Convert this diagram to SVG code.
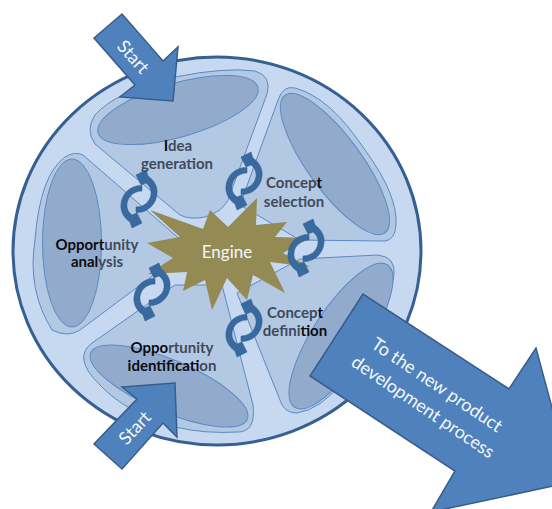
<svg xmlns="http://www.w3.org/2000/svg" xmlns:xlink="http://www.w3.org/1999/xlink" width="552" height="509" viewBox="0 0 552 509">
<style>
.seg{fill:#b3c8e3;stroke:#5b8ac4;stroke-width:1}
.hub{fill:#92abcd;stroke:#5b8ac4;stroke-width:1}
.arrow{fill:#4f81bd;stroke:#385d8a;stroke-width:1.5}
.lbl{font-family:Lato,"Liberation Sans",sans-serif;font-weight:700;font-size:15px;fill:#3f4a5a;text-anchor:middle}
.k{fill:#0c0c10}
.wt{font-family:Lato,"Liberation Sans",sans-serif;fill:#f4f7fb;text-anchor:middle}
.cyc{fill:#386a9f;stroke:#2f5b8c;stroke-width:.5}
</style>
<defs>
<path id="half" d="M-3,8 C7,8 13,0 12,-8 C11.5,-11 10,-14 7,-16 L2,-14 L-3,-24 L7,-29 L9,-23 C15,-19 19,-12 18,-5 C17,6 8,14 -3,13.5 Z"/>
<g id="cycle"><use xlink:href="#half" href="#half" class="cyc"/><use xlink:href="#half" href="#half" class="cyc" transform="rotate(180)"/></g>
</defs>
<g id="wheel">
<ellipse cx="217" cy="251" rx="204" ry="194" fill="#c6d9f1" stroke="#376092" stroke-width="3"/>
</g>
<g id="segment-top">
<path class="seg" d="M267,94 L228,200 Q222,212 205,217 Q190,220 180,215 L95,144 Q85,130 95,115 Q115,92 175,77 Q225,67 255,71 Q272,76 267,94Z"/>
<ellipse class="hub" cx="178" cy="110" rx="83" ry="27" transform="rotate(-16 178 110)"/>
</g>
<g id="segment-right">
<path class="seg" d="M278,100 Q283,85 295,88 Q330,97 365,150 Q398,195 396,225 Q395,240 385,241 L300,240 L240,205 Z"/>
<ellipse class="hub" cx="335" cy="164" rx="27" ry="85" transform="rotate(-36 335 164)"/>
</g>
<g id="segment-lower-right">
<path class="seg" d="M300,259 L378,255 Q396,257 394,275 Q385,330 345,380 Q320,410 297,413 Q287,413 282,405 L237,293 Z"/>
<ellipse class="hub" cx="341" cy="336" rx="28" ry="85" transform="rotate(33 341 336)"/>
</g>
<g id="segment-bottom">
<path class="seg" d="M222,285 L253,405 Q256,432 238,432 Q205,434 175,427 Q125,412 100,385 Q72,358 92,343 L175,285 Z"/>
<ellipse class="hub" cx="169" cy="386" rx="85" ry="26" transform="rotate(23 169 386)"/>
</g>
<g id="segment-left">
<path class="seg" d="M83,155 L190,248 L80,330 Q68,338 52,330 Q27,290 35,240 Q40,175 65,157 Q75,151 83,155Z"/>
<ellipse class="hub" cx="72" cy="243" rx="29.5" ry="84"/>
</g>
<g id="engine">
<polygon fill="#948a54" points="150,210 203,229 210,210 228,227 257,198 256,225 287,222 275,237 310,238 283,253 310,267 270,262 285,293 253,275 247,300 227,278 212,310 205,280 183,291 187,272 148,274 173,258 147,243 180,237"/>
<text class="wt" x="227" y="258" font-size="17">Engine</text>
</g>
<g id="connectors">
<use xlink:href="#cycle" href="#cycle" x="139" y="199"/>
<use xlink:href="#cycle" href="#cycle" x="244" y="181"/>
<use xlink:href="#cycle" href="#cycle" x="306" y="248"/>
<use xlink:href="#cycle" href="#cycle" x="152" y="292"/>
<use xlink:href="#cycle" href="#cycle" x="244" y="328"/>
</g>
<g id="label-idea">
<text class="lbl" x="178" y="151"><tspan class="k">I</tspan>dea</text>
<text class="lbl" x="177" y="169">generation</text>
</g>
<g id="label-selection">
<text class="lbl" x="294" y="188">Concep<tspan class="k">t</tspan></text>
<text class="lbl" x="294" y="207">selection</text>
</g>
<g id="label-analysis">
<text class="lbl" x="97" y="250"><tspan class="k">Opport</tspan>unity</text>
<text class="lbl" x="97" y="267"><tspan class="k">anal</tspan>ysis</text>
</g>
<g id="label-definition">
<text class="lbl" x="295" y="318">Concep<tspan class="k">t</tspan></text>
<text class="lbl" x="295" y="336">defini<tspan class="k">tion</tspan></text>
</g>
<g id="label-identification">
<text class="lbl" x="172" y="353"><tspan class="k">Oppo</tspan>rtunity</text>
<text class="lbl" x="172" y="371"><tspan class="k">identificat</tspan>ion</text>
</g>
<g id="start-top">
<polygon class="arrow" points="122,14 94,38 135,85 120,97 173,101 178,47 163,61"/>
<text class="wt" font-size="18" transform="translate(133,57) rotate(48)" y="6">Start</text>
</g>
<g id="start-bottom">
<polygon class="arrow" points="122,387 175,383 177,437 163,423 122,469 94,444 137,399"/>
<text class="wt" font-size="18" transform="translate(135,428) rotate(-47)" y="6">Start</text>
</g>
<g id="to-npd">
<polygon class="arrow" points="363,294 310,376 455,471 431,512 572,482 536,348 509,389"/>
<text class="wt" font-size="18" transform="translate(437,385) rotate(34)" y="6">To the new product</text>
<text class="wt" font-size="18" transform="translate(423,407) rotate(34)" y="6">development process</text>
</g>
</svg>
